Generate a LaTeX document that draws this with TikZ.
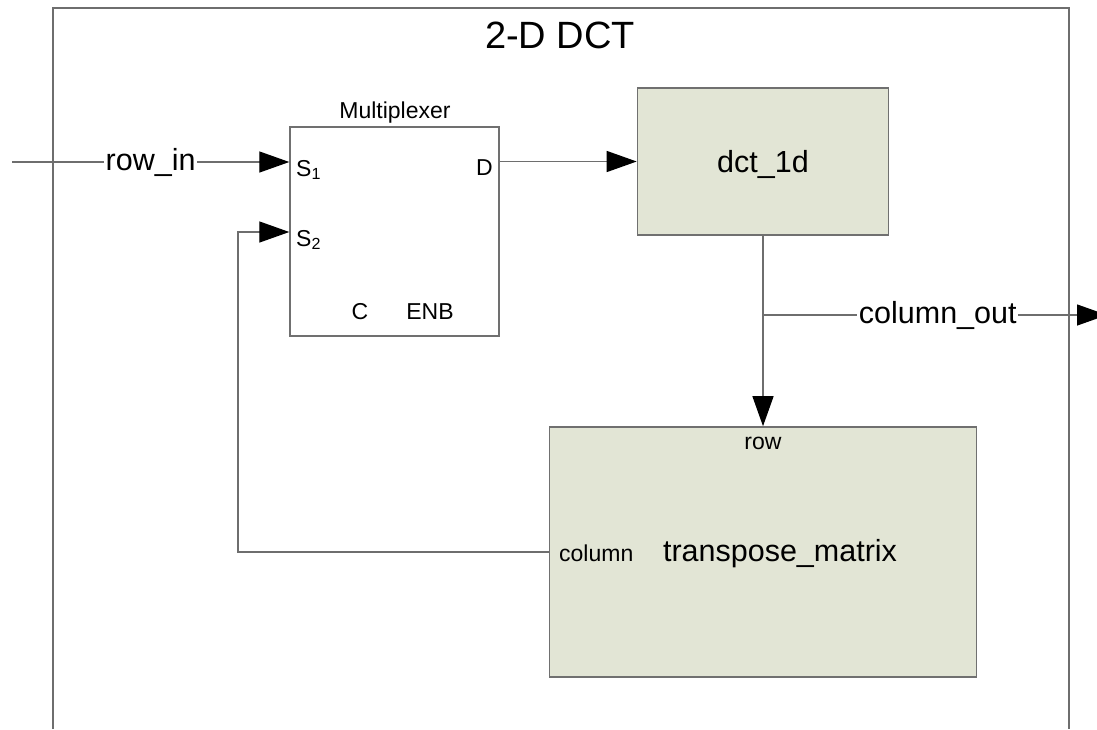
\documentclass[tikz,border=0pt]{standalone}
\usepackage{fontspec}
\setmainfont{Liberation Sans}
\usetikzlibrary{arrows.meta}
\definecolor{boxfill}{HTML}{E2E5D5}
\definecolor{linegrey}{HTML}{6E6E6E}
\definecolor{edgegrey}{HTML}{707070}
\tikzset{
  wire/.style={draw=linegrey, line width=1.3pt},
  arrowwire/.style={wire, -{Triangle[length=30pt,width=21pt,black]}, shorten >=0pt},
  block/.style={draw=edgegrey, line width=1.6pt, fill=boxfill, inner sep=0pt},
  muxbox/.style={draw=edgegrey, line width=1.4pt, fill=white, inner sep=0pt},
  bigtxt/.style={inner sep=0pt, font=\fontsize{30.5}{36}\selectfont},
  smalltxt/.style={inner sep=0pt, font=\fontsize{23}{27}\selectfont},
  linelbl/.style={fill=white, inner xsep=1.5pt, inner ysep=0pt, font=\fontsize{30.5}{36}\selectfont},
}
\begin{document}
\begin{tikzpicture}[x=1pt,y=-1pt]
\useasboundingbox (0,0) rectangle (1097,729);
\clip (0,0) rectangle (1097,729);
% outer frame (open at the bottom)
\coordinate (fbl) at (53,729);
\coordinate (ftl) at (53,8);
\coordinate (ftr) at (1069,8);
\coordinate (fbr) at (1069,729);
\draw[draw=linegrey, line width=1.6pt] (fbl) -- (ftl) -- (ftr) -- (fbr);
\node[inner sep=0pt, font=\fontsize{38}{44}\selectfont] (title) at (560,35) {2-D DCT};

% blocks
\node[muxbox, minimum width=209pt, minimum height=209pt] (mux) at (394.5,231.5) {};
\node[block, minimum width=251pt, minimum height=147pt] (dct) at (763,161.5) {};
\node[block, minimum width=427pt, minimum height=250pt] (tm) at (763,552) {};

% block texts
\node[smalltxt] (muxname) at (395,113) {Multiplexer};
\node[smalltxt, anchor=west] (s1) at (296,170) {S\textsubscript{1}};
\node[smalltxt, anchor=west] (s2) at (296,240) {S\textsubscript{2}};
\node[smalltxt, anchor=east] (d) at (493,168) {D};
\node[smalltxt] (c) at (360,312) {C};
\node[smalltxt] (enb) at (430,312) {ENB};
\node[bigtxt] (dctname) at (763,164) {dct\_1d};
\node[smalltxt] (row) at (763,443) {row};
\node[smalltxt, anchor=west] (col) at (559,553) {column};
\node[bigtxt] (tmname) at (780,554) {transpose\_matrix};

% connectors
\coordinate (rowin) at (12,162);
\draw[arrowwire] (rowin) -- (rowin -| mux.west) node[linelbl, pos=0.5] (rowinlbl) {row\_in};
\draw[arrowwire] (dct.west -| mux.east) -- (dct.west);
\coordinate (fb) at (238,232);
\draw[arrowwire] (tm.west) -| (fb) -- (fb -| mux.west);
\draw[arrowwire] (dct.south) -- (tm.north);
\coordinate (branch) at (763,315);
\coordinate (outend) at (1107,315);
\draw[arrowwire] (branch) -- (outend) node[linelbl, pos=0.508] (outlbl) {column\_out};
\end{tikzpicture}
\end{document}
